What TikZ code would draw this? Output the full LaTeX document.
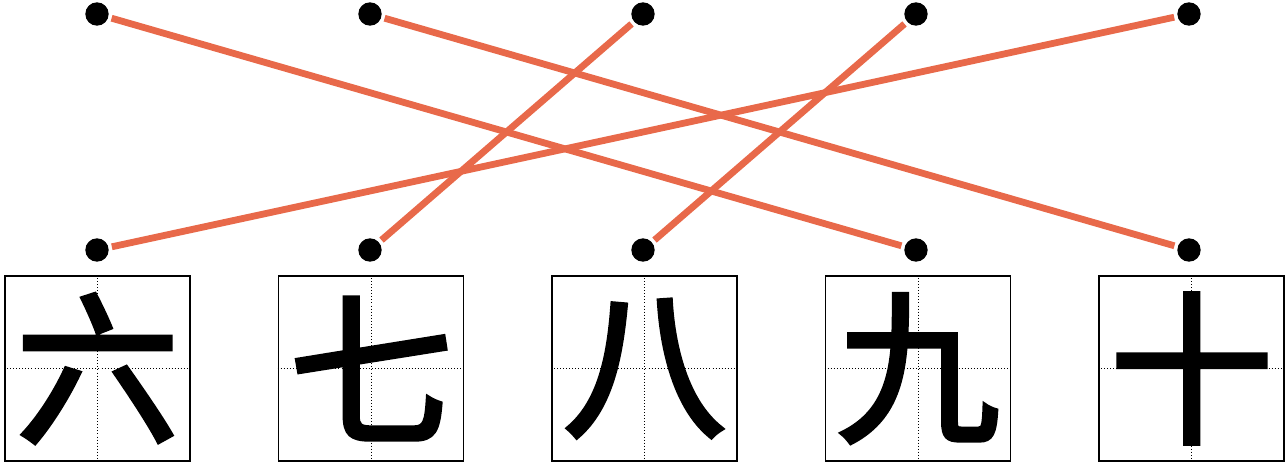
\documentclass[tikz,border=0pt]{standalone}
\usepackage{fontspec}
\usepackage{tikz}
\usetikzlibrary{positioning}
\newfontfamily\cjk{Noto Sans CJK SC}[FakeBold=2.5]
\definecolor{linkred}{RGB}{232,105,74}
\tikzset{
  dot/.style={circle, fill=black, inner sep=0pt, minimum size=0.7cm, outer sep=3pt},
  charbox/.style={draw=black, line width=1.6pt, minimum size=5.55cm, inner sep=0pt},
  guide/.style={dotted, line width=0.6pt},
  hanzi/.style={inner sep=0pt, font=\cjk\fontsize{140}{140}\selectfont},
  link/.style={linkred, line width=5.8pt}
}
\begin{document}
\begin{tikzpicture}[x=0.03cm, y=-0.03cm]
\useasboundingbox (0,0) rectangle (1286,464);
% dots and character boxes
\foreach \i/\ch in {1/六,2/七,3/八,4/九,5/十} {
  \node[dot] (t\i) at ({97+(\i-1)*273},14) {};
  \node[dot] (b\i) at ({97+(\i-1)*273},250) {};
  \node[charbox] (c\i) at ({97.5+(\i-1)*273.5},368.5) {};
  \draw[guide] (c\i.north) -- (c\i.south) (c\i.west) -- (c\i.east);
  \node[hanzi] (h\i) at (c\i) {\ch};
}
% matching lines
\draw[link] (t1) -- (b4);
\draw[link] (t2) -- (b5);
\draw[link] (t3) -- (b2);
\draw[link] (t4) -- (b3);
\draw[link] (t5) -- (b1);
\end{tikzpicture}
\end{document}
